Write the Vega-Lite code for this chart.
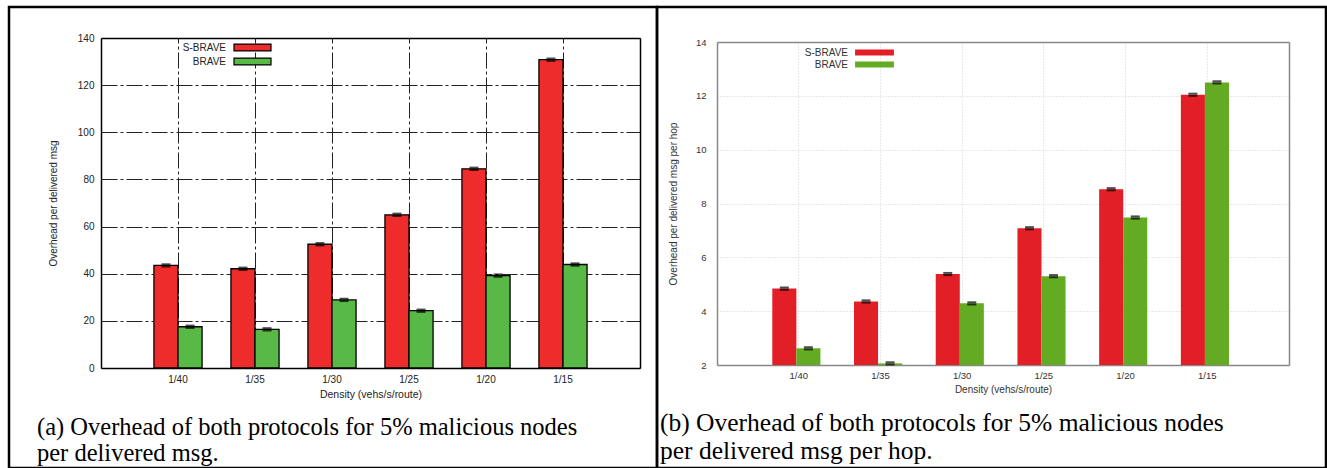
{
  "$schema": "https://vega.github.io/schema/vega-lite/v6.json",
  "padding": {"left": 7, "top": 5, "right": 0, "bottom": 0},
  "background": "white",
  "config": {
    "view": {"stroke": "black", "strokeWidth": 2.5},
    "font": "Liberation Sans"
  },
  "datasets": {
    "a": [
      {"density": "1/40", "protocol": "S-BRAVE", "value": 43.5, "lo": 43.0, "hi": 44.0},
      {"density": "1/35", "protocol": "S-BRAVE", "value": 42.1, "lo": 41.6, "hi": 42.6},
      {"density": "1/30", "protocol": "S-BRAVE", "value": 52.5, "lo": 52.0, "hi": 53.0},
      {"density": "1/25", "protocol": "S-BRAVE", "value": 65.0, "lo": 64.5, "hi": 65.5},
      {"density": "1/20", "protocol": "S-BRAVE", "value": 84.5, "lo": 84.0, "hi": 85.0},
      {"density": "1/15", "protocol": "S-BRAVE", "value": 130.8, "lo": 130.3, "hi": 131.3},
      {"density": "1/40", "protocol": "BRAVE", "value": 17.5, "lo": 17.0, "hi": 18.0},
      {"density": "1/35", "protocol": "BRAVE", "value": 16.4, "lo": 15.9, "hi": 16.9},
      {"density": "1/30", "protocol": "BRAVE", "value": 28.9, "lo": 28.4, "hi": 29.4},
      {"density": "1/25", "protocol": "BRAVE", "value": 24.3, "lo": 23.8, "hi": 24.8},
      {"density": "1/20", "protocol": "BRAVE", "value": 39.2, "lo": 38.7, "hi": 39.7},
      {"density": "1/15", "protocol": "BRAVE", "value": 43.9, "lo": 43.4, "hi": 44.4}
    ],
    "b": [
      {"density": "1/40", "protocol": "S-BRAVE", "value": 4.84, "lo": 4.8, "hi": 4.88},
      {"density": "1/35", "protocol": "S-BRAVE", "value": 4.36, "lo": 4.32, "hi": 4.4},
      {"density": "1/30", "protocol": "S-BRAVE", "value": 5.38, "lo": 5.34, "hi": 5.42},
      {"density": "1/25", "protocol": "S-BRAVE", "value": 7.08, "lo": 7.04, "hi": 7.12},
      {"density": "1/20", "protocol": "S-BRAVE", "value": 8.53, "lo": 8.49, "hi": 8.57},
      {"density": "1/15", "protocol": "S-BRAVE", "value": 12.04, "lo": 12.0, "hi": 12.08},
      {"density": "1/40", "protocol": "BRAVE", "value": 2.62, "lo": 2.58, "hi": 2.66},
      {"density": "1/35", "protocol": "BRAVE", "value": 2.06, "lo": 2.02, "hi": 2.1},
      {"density": "1/30", "protocol": "BRAVE", "value": 4.29, "lo": 4.25, "hi": 4.33},
      {"density": "1/25", "protocol": "BRAVE", "value": 5.3, "lo": 5.26, "hi": 5.34},
      {"density": "1/20", "protocol": "BRAVE", "value": 7.48, "lo": 7.44, "hi": 7.52},
      {"density": "1/15", "protocol": "BRAVE", "value": 12.5, "lo": 12.46, "hi": 12.54}
    ]
  },
  "hconcat": [
    {
      "width": 648,
      "height": 461,
      "data": {"name": "a"},
      "title": {
        "text": ["(a) Overhead of both protocols for 5% malicious nodes", "per delivered msg."],
        "orient": "bottom", "anchor": "start", "frame": "group", "offset": -52, "dx": 28,
        "font": "Liberation Serif", "fontSize": 24.5, "fontWeight": "normal", "color": "black", "lineHeight": 26
      },
      "encoding": {
        "xOffset": {"field": "protocol", "type": "nominal", "sort": ["S-BRAVE", "BRAVE"], "scale": {"paddingInner": 0, "paddingOuter": 0.6}}
      },
      "layer": [
        {
          "mark": {"type": "bar", "stroke": "black", "strokeWidth": 1.3},
          "encoding": {
            "x": {
              "field": "density", "type": "nominal", "sort": ["1/40", "1/35", "1/30", "1/25", "1/20", "1/15"],
              "scale": {"range": [92, 631], "paddingInner": 0, "paddingOuter": 0.5},
              "axis": {
                "title": "Density (vehs/s/route)", "orient": "bottom", "offset": -100, "labelAngle": 0, "bandPosition": 0.5,
                "grid": false,
                "ticks": false, "labelPadding": 6, "labelDx": -6, "labelFontSize": 10, "labelColor": "#222",
                "domainColor": "black", "domainWidth": 1.5,
                "titleFontSize": 10.5, "titleFontWeight": "normal", "titleColor": "#222", "titlePadding": 5
              }
            },
            "y": {
              "field": "value", "type": "quantitative",
              "scale": {"domain": [0, 140], "range": [361, 31], "nice": false, "zero": false},
              "axis": {
                "title": "Overhead per delivered msg", "orient": "left", "offset": -92,
                "values": [0, 20, 40, 60, 80, 100, 120, 140],
                "grid": true, "gridColor": "#222", "gridDash": [16, 3, 3, 3], "gridWidth": 1,
                "ticks": false, "labelPadding": 7, "labelFontSize": 10, "labelColor": "#222",
                "domainColor": "black", "domainWidth": 1.5,
                "titleFontSize": 10, "titleFontWeight": "normal", "titleColor": "#222", "titlePadding": 19
              }
            },
            "y2": {"datum": 0},
            "color": {
              "field": "protocol", "type": "nominal",
              "scale": {"domain": ["S-BRAVE", "BRAVE"], "range": ["#ee2c2c", "#58b947"]},
              "legend": {
                "orient": "none", "legendX": 238, "legendY": 35, "title": null,
                "symbolType": "M-4,-0.75H4V0.75H-4Z", "symbolSize": 85.6,
                "symbolStrokeColor": "black", "symbolStrokeWidth": 1.2, "symbolOpacity": 1,
                "labelAlign": "right", "labelOffset": -32, "labelFontSize": 10, "labelColor": "#222",
                "rowPadding": 1, "padding": 0
              }
            }
          }
        },
        {
          "mark": {"type": "tick", "color": "black", "size": 9, "thickness": 2},
          "encoding": {
            "x": {
              "field": "density", "type": "nominal", "sort": ["1/40", "1/35", "1/30", "1/25", "1/20", "1/15"],
              "axis": {"orient": "top", "offset": -31, "labels": false, "ticks": false, "title": null, "bandPosition": 0.5,
                "grid": true, "gridColor": "#222", "gridDash": [16, 3, 3, 3], "gridWidth": 1,
                "domainColor": "black", "domainWidth": 1.5}
            },
            "y": {
              "field": "hi", "type": "quantitative",
              "axis": {"orient": "right", "offset": -17, "labels": false, "ticks": false, "grid": false, "title": null, "domainColor": "black", "domainWidth": 1.5}
            }
          }
        },
        {
          "mark": {"type": "tick", "color": "black", "size": 9, "thickness": 2},
          "encoding": {
            "x": {"field": "density", "type": "nominal", "sort": ["1/40", "1/35", "1/30", "1/25", "1/20", "1/15"], "axis": null},
            "y": {"field": "lo", "type": "quantitative", "axis": null}
          }
        }
      ],
      "resolve": {"axis": {"x": "independent", "y": "independent"}}
    },
    {
      "width": 669,
      "height": 461,
      "data": {"name": "b"},
      "title": {
        "text": ["(b) Overhead of both protocols for 5% malicious nodes", "per delivered msg per hop."],
        "orient": "bottom", "anchor": "start", "frame": "group", "offset": -57, "dx": 3,
        "font": "Liberation Serif", "fontSize": 25.5, "fontWeight": "normal", "color": "black", "lineHeight": 28
      },
      "encoding": {
        "xOffset": {"field": "protocol", "type": "nominal", "sort": ["S-BRAVE", "BRAVE"], "scale": {"paddingInner": 0, "paddingOuter": 0.635}}
      },
      "layer": [
        {
          "mark": {"type": "bar"},
          "encoding": {
            "x": {
              "field": "density", "type": "nominal", "sort": ["1/40", "1/35", "1/30", "1/25", "1/20", "1/15"],
              "scale": {"range": [60, 632], "paddingInner": 0, "paddingOuter": 0.5},
              "axis": {
                "title": "Density (vehs/s/route)", "orient": "bottom", "offset": -103, "labelAngle": 0, "bandPosition": 0.5,
                "grid": false,
                "ticks": false, "labelPadding": 5, "labelDx": -6, "labelFontSize": 9.5, "labelColor": "#333",
                "domainColor": "#888", "domainWidth": 1.5,
                "titleFontSize": 10, "titleFontWeight": "normal", "titleColor": "#333", "titlePadding": 5
              }
            },
            "y": {
              "field": "value", "type": "quantitative",
              "scale": {"domain": [2, 14], "range": [358, 35], "nice": false, "zero": false},
              "axis": {
                "title": "Overhead per delivered msg per hop", "orient": "left", "offset": -60,
                "values": [2, 4, 6, 8, 10, 12, 14],
                "grid": true, "gridColor": "#c8c8c8", "gridDash": [1, 2], "gridWidth": 0.8,
                "ticks": false, "labelPadding": 11, "labelFontSize": 9.5, "labelColor": "#333",
                "domainColor": "#888", "domainWidth": 1.5,
                "titleFontSize": 10, "titleFontWeight": "normal", "titleColor": "#333", "titlePadding": 17
              }
            },
            "y2": {"datum": 2},
            "color": {
              "field": "protocol", "type": "nominal",
              "scale": {"domain": ["S-BRAVE", "BRAVE"], "range": ["#e21f26", "#62ab22"]},
              "legend": {
                "orient": "none", "legendX": 212, "legendY": 40, "title": null,
                "symbolType": "M-4.2,-0.65H4.2V0.65H-4.2Z", "symbolSize": 85.6, "symbolOpacity": 1,
                "labelAlign": "right", "labelOffset": -32, "labelFontSize": 10, "labelColor": "#333",
                "rowPadding": 1, "padding": 0
              }
            }
          }
        },
        {
          "mark": {"type": "tick", "color": "black", "size": 9, "thickness": 2},
          "encoding": {
            "x": {
              "field": "density", "type": "nominal", "sort": ["1/40", "1/35", "1/30", "1/25", "1/20", "1/15"],
              "axis": {"orient": "top", "offset": -35, "labels": false, "ticks": false, "title": null, "bandPosition": 0.5,
                "grid": true, "gridColor": "#c8c8c8", "gridDash": [1, 2], "gridWidth": 0.8,
                "domainColor": "#888", "domainWidth": 1.5}
            },
            "y": {
              "field": "hi", "type": "quantitative",
              "axis": {"orient": "right", "offset": -37, "labels": false, "ticks": false, "grid": false, "title": null, "domainColor": "#888", "domainWidth": 1.5}
            }
          }
        },
        {
          "mark": {"type": "tick", "color": "black", "size": 9, "thickness": 2},
          "encoding": {
            "x": {"field": "density", "type": "nominal", "sort": ["1/40", "1/35", "1/30", "1/25", "1/20", "1/15"], "axis": null},
            "y": {"field": "lo", "type": "quantitative", "axis": null}
          }
        }
      ],
      "resolve": {"axis": {"x": "independent", "y": "independent"}}
    }
  ],
  "spacing": 0,
  "bounds": "flush",
  "resolve": {"scale": {"color": "independent"}, "legend": {"color": "independent"}}
}
